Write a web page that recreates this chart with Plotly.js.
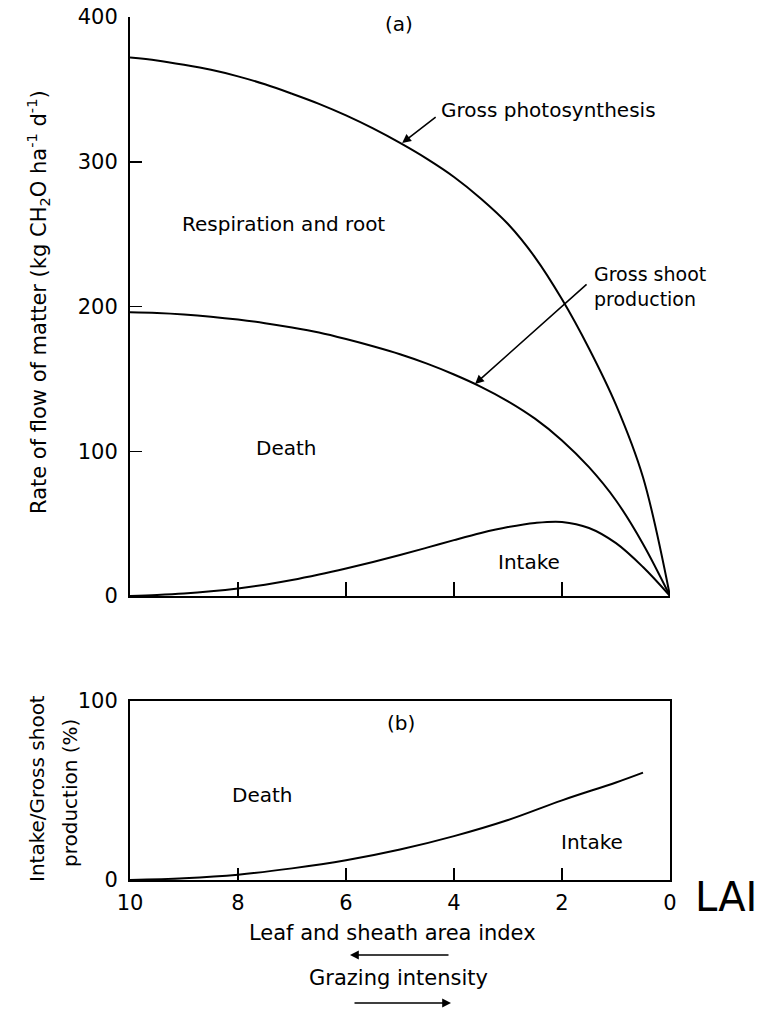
<!DOCTYPE html>
<html><head><meta charset="utf-8">
<script src="https://cdn.plot.ly/plotly-3.0.1.min.js"></script>
<style>html,body{margin:0;padding:0;background:#fff}</style>
</head><body><div id="chart" style="width:761px;height:1010px"></div>
<script>
// ---- data ----
const lai = [10, 9.5, 9, 8.5, 8, 7.5, 7, 6.5, 6, 5.5, 5, 4.5, 4, 3.5, 3, 2.5, 2, 1.5, 1, 0.5, 0];
const grossPhotosynthesis = [372, 370, 367, 363.5, 359, 353.5, 347, 340, 332, 323, 313, 302, 289.5, 274.5, 257, 234, 205, 171, 132, 82, 0];
const grossShootProduction = [196, 195.5, 194.5, 193, 191, 188.5, 185.5, 182, 177.5, 172.5, 167, 160.5, 153, 144.5, 134.5, 122.5, 107.5, 89, 66, 36, 0];
const intake = [0, 0.7, 1.7, 3.2, 5.2, 7.8, 11, 14.8, 19, 23.5, 28.3, 33.4, 38.6, 43.5, 47.6, 50.5, 51.2, 47, 36.5, 20, 0];
const laiRatio = [10, 9, 8, 7, 6, 5, 4, 3, 2, 1, 0.5];
const intakeRatio = [0, 1, 3, 6.5, 11, 17, 24.5, 33.5, 44.5, 54.5, 60];
const yTicksTop = [0, 100, 200, 300, 400];
const yTicksBottom = [0, 100];
const xTicksBottom = [10, 8, 6, 4, 2, 0];
const xTicksTop = [8, 6, 4, 2];

const W = 761, H = 1010;
const FONT = "DejaVu Sans";
const px = x => x / W;
const py = y => 1 - y / H;

const lineStyle = {color: "#000", width: 2, shape: "spline", smoothing: 1};
const traces = [
  {x: lai, y: grossPhotosynthesis, xaxis: "x", yaxis: "y", mode: "lines", line: lineStyle, hoverinfo: "skip"},
  {x: lai, y: grossShootProduction, xaxis: "x", yaxis: "y", mode: "lines", line: lineStyle, hoverinfo: "skip"},
  {x: lai, y: intake, xaxis: "x", yaxis: "y", mode: "lines", line: lineStyle, hoverinfo: "skip"},
  {x: laiRatio, y: intakeRatio, xaxis: "x2", yaxis: "y2", mode: "lines", line: lineStyle, hoverinfo: "skip"}
];

function label(text, x, y, size, extra) {
  return Object.assign({text: text, xref: "paper", yref: "paper", x: px(x), y: py(y),
    showarrow: false, xanchor: "center", yanchor: "middle",
    font: {family: FONT, size: size || 20, color: "#000"}}, extra || {});
}

const annotations = [
  label("(a)", 399, 24),
  label("Gross photosynthesis", 439, 110, 20, {xanchor: "left"}),
  label("Respiration and root", 283, 224),
  label("Gross shoot<br>production", 592, 286, 19, {xanchor: "left", align: "left"}),
  label("Death", 286, 448),
  label("Intake", 529, 562),
  label("(b)", 401, 723),
  label("Death", 262, 795),
  label("Intake", 592, 842),
  label("LAI", 693, 897, 40, {xanchor: "left"}),
  label("Leaf and sheath area index", 392, 933, 21),
  label("Grazing intensity", 399, 978, 21),
  label("Rate of flow of matter (kg CH<sub>2</sub>O ha<sup>-1</sup> d<sup>-1</sup>)", 38, 302, 21, {textangle: -90}),
  label("Intake/Gross shoot", 37, 789, 20, {textangle: -90}),
  label("production (%)", 70, 793, 20, {textangle: -90}),
  // arrows pointing to curves
  {xref: "x", yref: "y", x: 4.96, y: 313, text: "", showarrow: true, arrowhead: 2, arrowsize: 1.1,
   arrowwidth: 1.6, arrowcolor: "#000", ax: 35, ay: -27, standoff: 0},
  {xref: "x", yref: "y", x: 3.61, y: 146.5, text: "", showarrow: true, arrowhead: 2, arrowsize: 1.1,
   arrowwidth: 1.6, arrowcolor: "#000", ax: 113, ay: -101, standoff: 0},
  // grazing-intensity arrows
  {xref: "paper", yref: "paper", x: px(350), y: py(955), text: "", showarrow: true, arrowhead: 2,
   arrowsize: 1.1, arrowwidth: 1.6, arrowcolor: "#000", ax: 100, ay: 0, standoff: 0},
  {xref: "paper", yref: "paper", x: px(451), y: py(1003), text: "", showarrow: true, arrowhead: 2,
   arrowsize: 1.1, arrowwidth: 1.6, arrowcolor: "#000", ax: -98, ay: 0, standoff: 0}
];

const axisCommon = {showline: true, linecolor: "#000", linewidth: 2, showgrid: false, zeroline: false,
  ticks: "inside", tickcolor: "#000", tickwidth: 1.5, tickfont: {family: FONT, size: 21, color: "#000"}};

const xDomain = [px(130), px(670)];
const layout = {
  width: W, height: H,
  margin: {l: 0, r: 0, t: 0, b: 0, pad: 0},
  paper_bgcolor: "#fff", plot_bgcolor: "#fff",
  showlegend: false,
  font: {family: FONT, color: "#000"},
  xaxis: Object.assign({}, axisCommon, {domain: xDomain, range: [10, 0], anchor: "y",
    tickvals: xTicksTop, ticklen: 14, showticklabels: false}),
  yaxis: Object.assign({}, axisCommon, {domain: [py(596), py(17)], range: [0, 400], anchor: "x",
    tickvals: yTicksTop, ticklen: 12, ticklabelstandoff: 6}),
  xaxis2: Object.assign({}, axisCommon, {domain: xDomain, range: [10, 0], anchor: "y2", mirror: true,
    tickvals: xTicksBottom, ticklen: 12, ticklabelstandoff: 3}),
  yaxis2: Object.assign({}, axisCommon, {domain: [py(880), py(701)], range: [0, 100], anchor: "x2", mirror: true,
    tickvals: yTicksBottom, ticks: "", ticklabelstandoff: 6}),
  annotations: annotations
};

Plotly.newPlot("chart", traces, layout, {staticPlot: true, displayModeBar: false});
</script>
</body></html>
